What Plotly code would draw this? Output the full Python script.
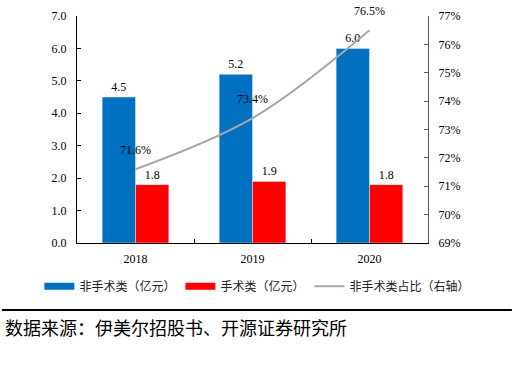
import plotly.graph_objects as go

years = ["2018", "2019", "2020"]
non_surgical = [4.5, 5.2, 6.0]
surgical = [1.8, 1.9, 1.8]
share_pct = [71.6, 73.4, 76.5]

name_ns = "非手术类（亿元）"
name_s = "手术类（亿元）"
name_share = "非手术类占比（右轴）"
source = "数据来源：伊美尔招股书、开源证券研究所"

BLUE = "#0070C0"
RED = "#FF0000"
GRAY = "#A6A6A6"
SERIF = "Liberation Serif, Times New Roman, serif"
CJK = "Noto Sans CJK SC, sans-serif"

fig = go.Figure()
fig.add_trace(go.Bar(
    x=years, y=non_surgical, name=name_ns, marker_color=BLUE, showlegend=False,
    texttemplate="%{y:.1f}", textposition="outside", cliponaxis=False,
    textfont=dict(family=SERIF, size=12, color="#000"), hoverinfo="skip",
))
fig.add_trace(go.Bar(
    x=years, y=surgical, name=name_s, marker_color=RED, showlegend=False,
    texttemplate="%{y:.1f}", textposition="outside", cliponaxis=False,
    textfont=dict(family=SERIF, size=12, color="#000"), hoverinfo="skip",
))
fig.add_trace(go.Scatter(
    x=years, y=[v / 100 for v in share_pct], yaxis="y2", name=name_share,
    mode="lines+markers+text", line=dict(color=GRAY, width=2, shape="spline"),
    marker=dict(size=18, color="rgba(0,0,0,0)"),
    text=[f"{v:.1f}%" for v in share_pct], textposition="top center",
    textfont=dict(family=SERIF, size=12, color="#000"), cliponaxis=False,
    showlegend=False, hoverinfo="skip",
))
# legend entries
fig.add_trace(go.Scatter(x=[None], y=[None], mode="lines", name=name_ns,
                         line=dict(color=BLUE, width=7)))
fig.add_trace(go.Scatter(x=[None], y=[None], mode="lines", name=name_s,
                         line=dict(color=RED, width=7)))
fig.add_trace(go.Scatter(x=[None], y=[None], mode="lines", name=name_share,
                         line=dict(color=GRAY, width=2)))

fig.update_layout(
    width=515, height=369,
    margin=dict(l=77, r=87, t=16, b=126, autoexpand=False),
    paper_bgcolor="white", plot_bgcolor="white",
    barmode="group", bargap=0.43, bargroupgap=0,
    font=dict(family=SERIF, size=12, color="#000"),
    xaxis=dict(
        type="category", showline=True, linecolor="#000", linewidth=1,
        ticks="inside", tickson="boundaries", ticklen=4, tickcolor="#000",
        tickfont=dict(family=SERIF, size=12, color="#000"), showgrid=False,
        ticklabelstandoff=5,
    ),
    yaxis=dict(
        range=[0, 7], dtick=1, tickformat=".1f", showline=True, linecolor="#000",
        linewidth=1, ticks="inside", ticklen=4, tickcolor="#000", showgrid=False,
        zeroline=False, tickfont=dict(family=SERIF, size=12, color="#000"),
        ticklabelstandoff=7,
    ),
    yaxis2=dict(
        range=[0.69, 0.77], dtick=0.01, tickformat=".0%", overlaying="y",
        side="right", showline=True, linecolor="#595959", linewidth=1,
        ticks="inside", ticklen=4, tickcolor="#595959", showgrid=False,
        zeroline=False, tickfont=dict(family=SERIF, size=12, color="#000"),
        ticklabelstandoff=7,
    ),
    legend=dict(
        orientation="h", x=1.135, xanchor="right", y=-0.19, yanchor="middle",
        font=dict(family=CJK, size=12, color="#222"), itemwidth=30,
        bgcolor="rgba(0,0,0,0)", tracegroupgap=0,
    ),
    shapes=[dict(type="line", xref="paper", yref="paper",
                 x0=-0.214, x1=1.239, y0=-0.295, y1=-0.295,
                 line=dict(color="#000", width=2))],
    annotations=[dict(text=source, xref="paper", yref="paper",
                      x=-0.211, y=-0.37, xanchor="left", yanchor="middle",
                      showarrow=False,
                      font=dict(family=CJK, size=18, color="#000"))],
)

fig.write_html("out.html", config={"displayModeBar": False},
               post_script="document.body.style.margin='0';")
